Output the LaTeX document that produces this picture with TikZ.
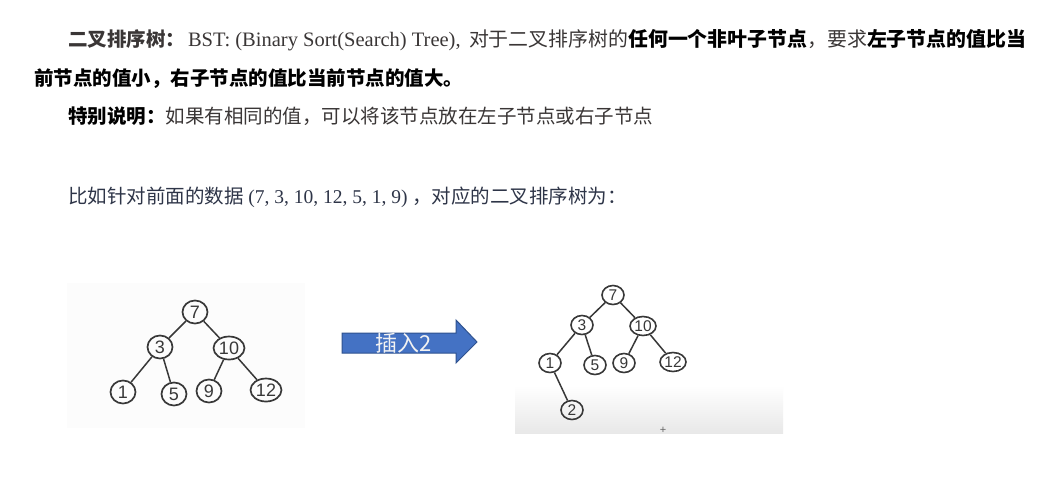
\documentclass[tikz,border=0pt]{standalone}
\usepackage{fontspec}
\setmainfont{Liberation Serif}
\setsansfont{Liberation Sans}
\newfontfamily\cjk{Noto Sans CJK SC}
\usetikzlibrary{shapes.geometric}

\definecolor{bodytext}{HTML}{3A3636}
\definecolor{bluetext}{HTML}{2E3548}
\definecolor{treeline}{HTML}{383838}
\definecolor{arrowblue}{HTML}{4472C4}
\definecolor{arrowedge}{HTML}{2F528F}

\newcommand{\cjkbold}{\cjk\bfseries}

\tikzset{
  x=1pt, y=-1pt,
  textline/.style={anchor=base west, inner sep=0pt, outer sep=0pt,
    font=\fontsize{19.5}{20}\selectfont, text=bodytext},
  tnode/.style={ellipse, draw=treeline, line width=1.7pt, inner sep=0pt,
    minimum width=25pt, minimum height=23pt, text=treeline,
    font=\sffamily\fontsize{18}{18}\selectfont},
  tnodew/.style={tnode, minimum width=31pt},
  snode/.style={tnode, line width=1.6pt, minimum width=22pt, minimum height=19pt,
    font=\sffamily\fontsize{15.5}{15.5}\selectfont},
  snodew/.style={snode, minimum width=26pt},
  tedge/.style={draw=treeline, line width=1.5pt},
  blockarrow/.style={fill=arrowblue, draw=arrowedge, line width=1pt, line join=miter},
}

\begin{document}
\begin{tikzpicture}
\useasboundingbox (0,0) rectangle (1059,499);
\fill[white] (0,0) rectangle (1059,499);

% paragraph text
\node[textline] (l1a) at (68,46) {\cjkbold 二叉排序树：};
\node[textline, font=\fontsize{20.5}{21}\selectfont] (l1b) at (188,46) {BST: (Binary Sort(Search) Tree),};
\node[textline, font=\fontsize{19.9}{20}\selectfont] (l1c) at (469,46)
  {\cjk 对于二叉排序树的{\bfseries\color{black}任何一个非叶子节点}，要求{\bfseries\color{black}左子节点的值比当}};
\node[textline, text=black] (l2) at (34,85) {\cjkbold 前节点的值小，右子节点的值比当前节点的值大。};
\node[textline] (l3) at (68,123) {{\cjkbold\color{black}特别说明：}{\cjk 如果有相同的值，可以将该节点放在左子节点或右子节点}};
\node[textline, text=bluetext] (l4) at (68,203)
  {{\cjk 比如针对前面的数据} (7, 3, 10, 12, 5, 1, 9) {\cjk ，对应的二叉排序树为：}};

% left tree panel
\fill[black!1] (67,283) rectangle (305,428);
\node[tnode]  (a7)  at (195,312) {7};
\node[tnode]  (a3)  at (160,347) {3};
\node[tnodew] (a10) at (229,348) {10};
\node[tnode]  (a1)  at (123,392) {1};
\node[tnode]  (a5)  at (174,394) {5};
\node[tnode]  (a9)  at (209,391) {9};
\node[tnodew] (a12) at (266,390) {12};
\draw[tedge] (a7) -- (a3);
\draw[tedge] (a7) -- (a10);
\draw[tedge] (a3) -- (a1);
\draw[tedge] (a3) -- (a5);
\draw[tedge] (a10) -- (a9);
\draw[tedge] (a10) -- (a12);

% insertion arrow
\draw[blockarrow] (342,333) -- (456,333) -- (456,320) -- (477,342)
  -- (456,363) -- (456,353) -- (342,353) -- cycle;
\node[inner sep=0pt, text=black!5, font=\cjk\fontsize{22}{22}\selectfont] (ins) at (404,343) {插入2};

% right tree panel
\fill[white] (515,277) rectangle (783,385);
\shade[top color=white, bottom color=black!9] (515,385) rectangle (783,433);
\node[text=black!60, inner sep=0pt, font=\sffamily\fontsize{11}{11}\selectfont] (plus) at (663,430) {+};
\node[snode]  (b7)  at (613,295) {7};
\node[snode]  (b3)  at (582,325) {3};
\node[snodew] (b10) at (643,326) {10};
\node[snode]  (b1)  at (550,363) {1};
\node[snode]  (b5)  at (595,365) {5};
\node[snode]  (b9)  at (624,363) {9};
\node[snodew] (b12) at (673,362) {12};
\node[snode]  (b2)  at (572,410) {2};
\draw[tedge] (b7) -- (b3);
\draw[tedge] (b7) -- (b10);
\draw[tedge] (b3) -- (b1);
\draw[tedge] (b3) -- (b5);
\draw[tedge] (b10) -- (b9);
\draw[tedge] (b10) -- (b12);
\draw[tedge] (b1) -- (b2);
\end{tikzpicture}
\end{document}
